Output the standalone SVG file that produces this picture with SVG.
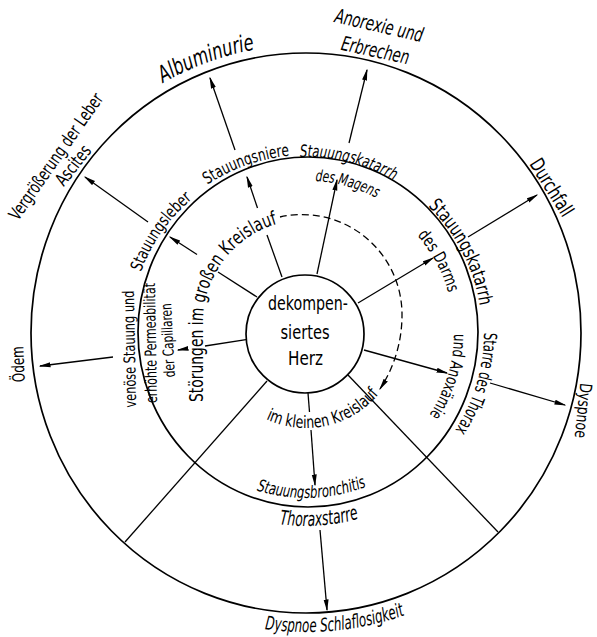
<svg xmlns="http://www.w3.org/2000/svg" width="597" height="637" viewBox="0 0 597 637">
<style>
.t{font-family:"Liberation Sans Narrow","DejaVu Sans Condensed","Liberation Sans",Arial,sans-serif;fill:#000}
.i{font-style:italic}
.ring{fill:none;stroke:#000;stroke-width:1.7}
.ln{fill:none;stroke:#000;stroke-width:1.3}
.arr{marker-end:url(#ah)}
</style>
<defs>
<marker id="ah" viewBox="0 0 12 6" refX="10.5" refY="3" markerWidth="12" markerHeight="6" markerUnits="userSpaceOnUse" orient="auto"><path d="M0,0.5 L12,3 L0,5.5 Z" fill="#000"/></marker>
<path id="p-alb" d="M85.4,147.9 A288,288 0 0 1 356,49.4"/>
<path id="p-niere" d="M170.6,217.4 A178,178 0 0 1 338.4,158"/>
<path id="p-katM" d="M257.5,163.8 A176,176 0 0 1 428.3,206.4"/>
<path id="p-magens" d="M267.9,185.4 A152,152 0 0 1 414.5,226.5"/>
<path id="p-leber" d="M130.7,317.7 A176,176 0 0 1 231.6,173.5"/>
<path id="p-katD" d="M400.6,184.6 A176,176 0 0 1 481.8,340.7"/>
<path id="p-darms" d="M383.3,206.8 A148,148 0 0 1 453.9,336.9"/>
<path id="p-starre" d="M479.1,291.5 A178,178 0 0 1 428.5,462.1"/>
<path id="p-anox" d="M450.2,299.7 A148,148 0 0 1 406.9,441.2"/>
<path id="p-bronch" d="M228.5,478.7 A165,165 0 0 0 393.4,472.9"/>
<path id="p-thorax" d="M221.4,506.5 A193,193 0 0 0 413.9,493"/>
<path id="p-klein" d="M236,397.2 A95,95 0 0 0 396.6,361.6"/>
<path id="p-dysS" d="M182.9,605.5 A299,299 0 0 0 480.5,575.8"/>
<path id="p-gross" d="M203,402 L203,322 A102,102 0 0 1 305,220 A102,102 0 0 1 377.1,249.9"/>
</defs>
<rect width="597" height="637" fill="#fff"/>
<g id="rings">
<ellipse class="ring" cx="306" cy="333" rx="275" ry="280"/>
<ellipse class="ring" cx="308" cy="332" rx="170" ry="175"/>
</g>
<g id="connectors">
<line class="ln" x1="257" y1="297" x2="218" y2="272"/>
<line class="ln arr" x1="197" y1="254.5" x2="170" y2="237"/>
<line class="ln arr" x1="148" y1="222" x2="85" y2="177"/>
<line class="ln" x1="282" y1="277" x2="267" y2="235"/>
<line class="ln arr" x1="257.5" y1="208" x2="247" y2="177"/>
<line class="ln arr" x1="235" y1="150" x2="210" y2="78"/>
<line class="ln arr" x1="317" y1="274" x2="337" y2="180"/>
<line class="ln arr" x1="349" y1="143" x2="367" y2="70"/>
<line class="ln arr" x1="358" y1="303" x2="433" y2="258"/>
<line class="ln arr" x1="468" y1="237" x2="537" y2="195"/>
<line class="ln arr" x1="364" y1="350" x2="447" y2="373"/>
<line class="ln arr" x1="490" y1="383" x2="565" y2="405"/>
<line class="ln" x1="246" y1="339.6" x2="205" y2="346"/>
<line class="ln arr" x1="187" y1="348.6" x2="178" y2="350"/>
<line class="ln arr" x1="113" y1="357" x2="40" y2="366"/>
<line class="ln" x1="267" y1="381" x2="125" y2="542"/>
<line class="ln" x1="348" y1="375" x2="498" y2="532"/>
<line class="ln" x1="308" y1="393" x2="309.5" y2="412"/>
<line class="ln arr" x1="311" y1="430" x2="315" y2="485"/>
<line class="ln arr" x1="320" y1="530" x2="327" y2="610"/>
<path class="ln arr" stroke-dasharray="7 4" d="M280,217 A100,100 0 0 1 402,316 A135,135 0 0 1 380,389"/>
</g>
<g id="herz">
<circle cx="305" cy="334" r="59" fill="#fff" stroke="#000" stroke-width="1.7"/>
<text class="t" font-size="20" text-anchor="middle"><tspan x="308" y="310" textLength="80" lengthAdjust="spacingAndGlyphs">dekompen-</tspan><tspan x="305" y="339" textLength="49" lengthAdjust="spacingAndGlyphs">siertes</tspan><tspan x="305.5" y="365" textLength="35" lengthAdjust="spacingAndGlyphs">Herz</tspan></text>
</g>
<g id="albuminurie"><text class="t i" font-size="23" text-anchor="middle"><textPath href="#p-alb" startOffset="50%" textLength="98" lengthAdjust="spacingAndGlyphs">Albuminurie</textPath></text></g>
<g id="leber-ascites">
<text class="t" font-size="18" text-anchor="middle" transform="translate(61,160) rotate(-55)" textLength="150" lengthAdjust="spacingAndGlyphs">Vergrößerung der Leber</text>
<text class="t" font-size="18" text-anchor="middle" transform="translate(78,169) rotate(-52)" textLength="46" lengthAdjust="spacingAndGlyphs">Ascites</text>
</g>
<g id="anorexie">
<text class="t i" font-size="20" text-anchor="middle" transform="translate(377.5,32) rotate(13)" textLength="90" lengthAdjust="spacingAndGlyphs">Anorexie und</text>
<text class="t i" font-size="20" text-anchor="middle" transform="translate(374,57) rotate(12)" textLength="69" lengthAdjust="spacingAndGlyphs">Erbrechen</text>
</g>
<g id="durchfall"><text class="t" font-size="20" text-anchor="middle" transform="translate(546,191) rotate(58)" textLength="64" lengthAdjust="spacingAndGlyphs">Durchfall</text></g>
<g id="dyspnoe"><text class="t" font-size="17" text-anchor="middle" transform="translate(577.5,410) rotate(96)" textLength="55" lengthAdjust="spacingAndGlyphs">Dyspnoe</text></g>
<g id="oedem"><text class="t" font-size="17" text-anchor="middle" transform="translate(24,364) rotate(-92)" textLength="36" lengthAdjust="spacingAndGlyphs">Ödem</text></g>
<g id="dyspnoe-schlaflosigkeit"><text class="t i" font-size="19" text-anchor="middle"><textPath href="#p-dysS" startOffset="50%" textLength="142" lengthAdjust="spacingAndGlyphs">Dyspnoe Schlaflosigkeit</textPath></text></g>
<g id="stauungsniere"><text class="t" font-size="17" text-anchor="middle"><textPath href="#p-niere" startOffset="50%" textLength="88" lengthAdjust="spacingAndGlyphs">Stauungsniere</textPath></text></g>
<g id="stauungskatarrh-magen">
<text class="t i" font-size="17" text-anchor="middle"><textPath href="#p-katM" startOffset="50%" textLength="98" lengthAdjust="spacingAndGlyphs">Stauungskatarrh</textPath></text>
<text class="t i" font-size="16" text-anchor="middle"><textPath href="#p-magens" startOffset="50%" textLength="64" lengthAdjust="spacingAndGlyphs">des Magens</textPath></text>
</g>
<g id="stauungsleber"><text class="t" font-size="17" text-anchor="middle"><textPath href="#p-leber" startOffset="50%" textLength="90" lengthAdjust="spacingAndGlyphs">Stauungsleber</textPath></text></g>
<g id="stauungskatarrh-darm">
<text class="t" font-size="19" text-anchor="middle"><textPath href="#p-katD" startOffset="50%" textLength="114" lengthAdjust="spacingAndGlyphs">Stauungskatarrh</textPath></text>
<text class="t" font-size="17" text-anchor="middle"><textPath href="#p-darms" startOffset="50%" textLength="66" lengthAdjust="spacingAndGlyphs">des Darms</textPath></text>
</g>
<g id="starre-thorax">
<text class="t" font-size="18" text-anchor="middle"><textPath href="#p-starre" startOffset="50%" textLength="103" lengthAdjust="spacingAndGlyphs">Starre des Thorax</textPath></text>
<text class="t" font-size="17" text-anchor="middle"><textPath href="#p-anox" startOffset="50%" textLength="86" lengthAdjust="spacingAndGlyphs">und Anoxämie</textPath></text>
</g>
<g id="stauungsbronchitis">
<text class="t i" font-size="17" text-anchor="middle"><textPath href="#p-bronch" startOffset="50%" textLength="112" lengthAdjust="spacingAndGlyphs">Stauungsbronchitis</textPath></text>
<text class="t i" font-size="20" text-anchor="middle"><textPath href="#p-thorax" startOffset="50%" textLength="80" lengthAdjust="spacingAndGlyphs">Thoraxstarre</textPath></text>
</g>
<g id="kleiner-kreislauf"><text class="t" font-size="17" text-anchor="middle"><textPath href="#p-klein" startOffset="50%" textLength="124" lengthAdjust="spacingAndGlyphs">im kleinen Kreislauf</textPath></text></g>
<g id="grosser-kreislauf"><text class="t" font-size="19"><textPath href="#p-gross" startOffset="0" textLength="212" lengthAdjust="spacingAndGlyphs">Störungen im großen Kreislauf</textPath></text></g>
<g id="venoese-stauung">
<text class="t" font-size="16" text-anchor="middle" transform="translate(135,349) rotate(-91)" textLength="117" lengthAdjust="spacingAndGlyphs">venöse Stauung und</text>
<text class="t" font-size="16" text-anchor="middle" transform="translate(156,343) rotate(-91)" textLength="120" lengthAdjust="spacingAndGlyphs">erhöhte Permeabilität</text>
<text class="t" font-size="15" text-anchor="middle" transform="translate(173,340) rotate(-93)" textLength="74" lengthAdjust="spacingAndGlyphs">der Capillaren</text>
</g>
</svg>
